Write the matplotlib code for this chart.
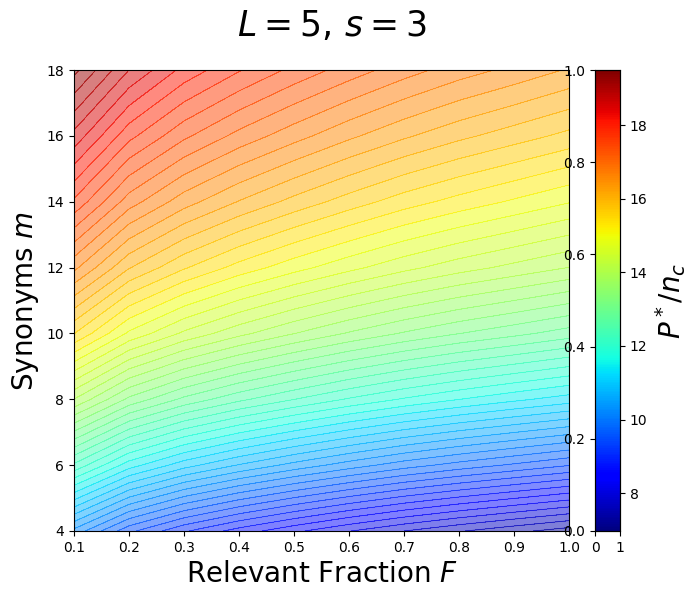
import numpy as np
import matplotlib
matplotlib.use("Agg")
import matplotlib.pyplot as plt
from matplotlib.cm import ScalarMappable
from matplotlib.colors import Normalize

F = [0.1, 0.2, 0.3, 0.4, 0.5, 0.6, 0.7, 0.8, 0.9, 1.0]
M = [4, 6, 8, 10, 12, 14, 16, 18]

P_M4 = [10.2, 9.45, 8.98, 8.63, 8.34, 8.08, 7.85, 7.65, 7.47, 7.3]
P_M6 = [12.2, 11.47, 11.02, 10.69, 10.41, 10.16, 9.93, 9.74, 9.57, 9.4]
P_M8 = [14.0, 13.29, 12.85, 12.52, 12.25, 12.0, 11.78, 11.59, 11.42, 11.26]
P_M10 = [15.55, 14.84, 14.4, 14.07, 13.79, 13.54, 13.32, 13.13, 12.97, 12.8]
P_M12 = [16.7, 16.0, 15.57, 15.24, 14.97, 14.73, 14.51, 14.32, 14.16, 14.0]
P_M14 = [17.7, 16.97, 16.52, 16.19, 15.91, 15.66, 15.43, 15.24, 15.07, 14.9]
P_M16 = [18.55, 17.81, 17.35, 17.01, 16.73, 16.47, 16.24, 16.04, 15.87, 15.7]
P_M18 = [19.35, 18.62, 18.11, 17.76, 17.46, 17.2, 16.96, 16.75, 16.58, 16.4]

VMIN, VMAX = 6.97, 19.5
W, H = 697, 599

Z = np.array([P_M4, P_M6, P_M8, P_M10, P_M12, P_M14, P_M16, P_M18])
levels = np.linspace(VMIN, VMAX, 58)
norm = Normalize(VMIN, VMAX)

fig = plt.figure(figsize=(W / 100, H / 100), dpi=100)
ax = fig.add_axes([74 / W, 1 - 531 / H, 495 / W, 461 / H])

ax.contourf(F, M, Z, levels=levels, cmap="jet", norm=norm, alpha=0.5)
ax.contour(F, M, Z, levels=levels, cmap="jet", norm=norm, linewidths=0.5, alpha=0.6)
ax.set_xticks(F)
ax.set_yticks(M)
ax.set_xlabel("Relevant Fraction $F$", fontsize=20, labelpad=4)
ax.set_ylabel("Synonyms $m$", fontsize=20, labelpad=4)

cax = fig.add_axes([595 / W, 1 - 531 / H, 25 / W, 461 / H])
cb = fig.colorbar(ScalarMappable(norm=norm, cmap="jet"), cax=cax)
cb.set_ticks([8, 10, 12, 14, 16, 18])
cb.set_label("$P^*/n_c$", fontsize=20, labelpad=4)

# leftover 0-1 axis that sits under the colorbar
over = fig.add_axes(cax.get_position(), facecolor="none")
over.set_xlim(0, 1)
over.set_ylim(0, 1)
over.set_xticks([0, 1])
over.set_xticklabels(["0", "1"])
over.set_yticks([0, 0.2, 0.4, 0.6, 0.8, 1.0])

fig.text(332 / W, 1 - 26 / H, "$L = 5,\\, s = 3$", fontsize=25, ha="center", va="center")
fig.savefig("out.png", dpi=100)
